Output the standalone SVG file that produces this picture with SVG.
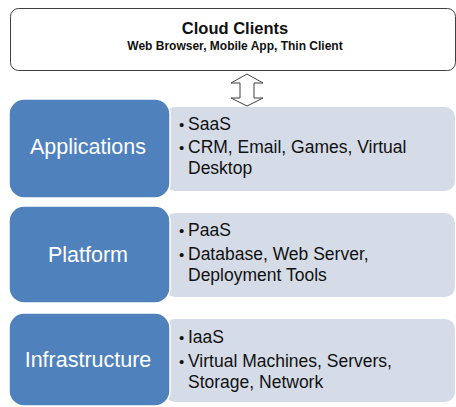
<svg xmlns="http://www.w3.org/2000/svg" width="456" height="407" viewBox="0 0 456 407">
<style>
.blue{fill:#4F81BD;stroke:#FFFFFF;stroke-width:1.5}
.light{fill:#D5DCE8;stroke:none}
.lbl{font-family:"Liberation Sans",Arial,sans-serif;font-size:21.5px;fill:#FFFFFF;text-anchor:middle}
.item{font-family:"Liberation Sans",Arial,sans-serif;font-size:17.5px;fill:#111111}
.bul{font-family:"Liberation Sans",Arial,sans-serif;font-size:15px;fill:#111111}
.title{font-family:"Liberation Sans",Arial,sans-serif;font-weight:bold;fill:#111111;text-anchor:middle}
</style>
<rect width="456" height="407" fill="#FFFFFF"/>
<g id="cloud-clients">
<rect x="10.5" y="8.5" width="445" height="62" rx="8" fill="#FFFFFF" stroke="#404040" stroke-width="1"/>
<text class="title" x="235" y="34" font-size="16.5">Cloud Clients</text>
<text class="title" x="235" y="50" font-size="12">Web Browser, Mobile App, Thin Client</text>
</g>
<g id="connectors">
<polygon points="247,74 263,83 254,83 254,98 263,98 247,106 231,98 240,98 240,83 231,83" fill="#FFFFFF" stroke="#404040" stroke-width="1"/>
</g>
<g id="applications">
<rect class="light" x="165" y="107" width="290" height="84" rx="10"/>
<rect class="blue" x="9" y="99" width="161" height="99" rx="15"/>
<text class="lbl" x="88" y="154">Applications</text>
<text class="bul" x="179" y="130">•</text><text class="item" x="188" y="130">SaaS</text>
<text class="bul" x="179" y="153">•</text><text class="item" x="188" y="153">CRM, Email, Games, Virtual</text>
<text class="item" x="188" y="174">Desktop</text>
</g>
<g id="platform">
<rect class="light" x="165" y="213" width="290" height="84" rx="10"/>
<rect class="blue" x="9" y="206" width="161" height="97" rx="15"/>
<text class="lbl" x="88" y="262">Platform</text>
<text class="bul" x="179" y="236">•</text><text class="item" x="188" y="236">PaaS</text>
<text class="bul" x="179" y="260">•</text><text class="item" x="188" y="260">Database, Web Server,</text>
<text class="item" x="188" y="281">Deployment Tools</text>
</g>
<g id="infrastructure">
<rect class="light" x="165" y="319" width="290" height="83" rx="10"/>
<rect class="blue" x="9" y="313" width="161" height="93" rx="15"/>
<text class="lbl" x="88" y="367">Infrastructure</text>
<text class="bul" x="179" y="343">•</text><text class="item" x="188" y="343">IaaS</text>
<text class="bul" x="179" y="367">•</text><text class="item" x="188" y="367">Virtual Machines, Servers,</text>
<text class="item" x="188" y="388">Storage, Network</text>
</g>
</svg>
